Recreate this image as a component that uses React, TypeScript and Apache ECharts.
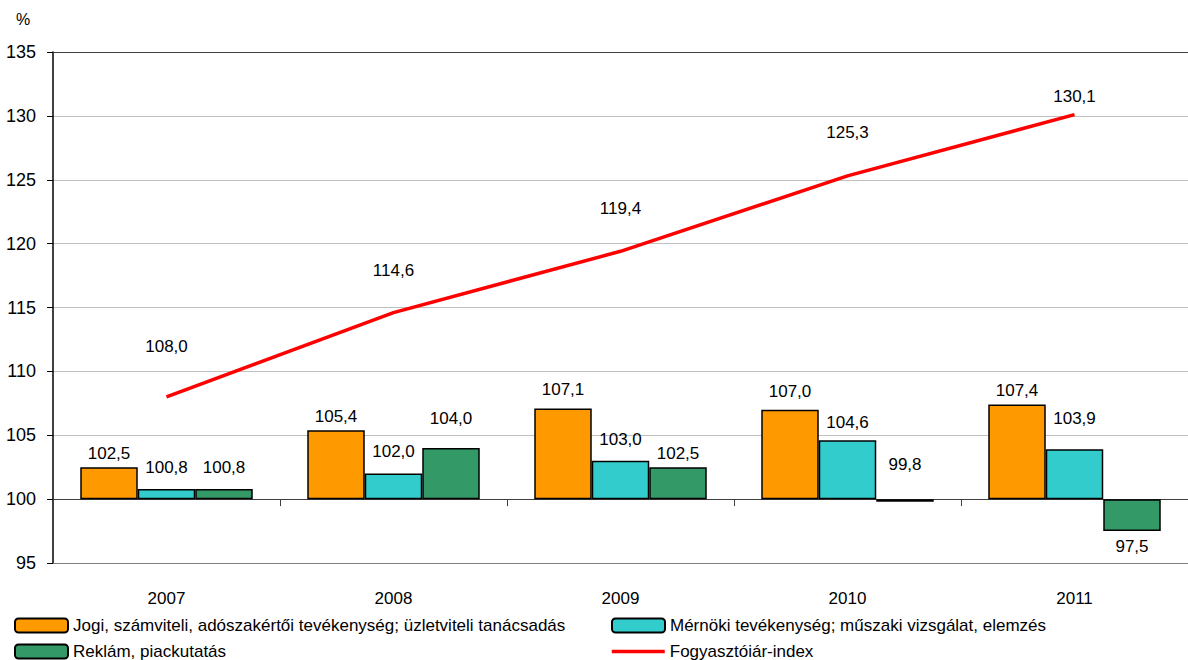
import React, { useEffect, useRef } from "react";
import * as echarts from "echarts";

const categories = ["2007", "2008", "2009", "2010", "2011"];
const jogi = [102.5, 105.4, 107.1, 107.0, 107.4];
const mernoki = [100.8, 102.0, 103.0, 104.6, 103.9];
const reklam = [100.8, 104.0, 102.5, 99.8, 97.5];
const fogyasztoi = [108.0, 114.6, 119.4, 125.3, 130.1];
const BASE = 100;

const names = [
  "Jogi, számviteli, adószakértői tevékenység; üzletviteli tanácsadás",
  "Mérnöki tevékenység; műszaki vizsgálat, elemzés",
  "Reklám, piackutatás",
  "Fogyasztóiár-index",
];

// label offsets (style only)
const distJogi = [5.5, 5.5, 10, 10, 6];
const distMernoki = [13, 13.5, 12.5, 9.5, 22];
const distReklam = [13, 21.5, 5, 26.5, 7];
const distLine = [41, 33, 34, 34, 9];

const FONT = "'Liberation Sans', Arial, sans-serif";
const fmt = (v: number) => v.toFixed(1).replace(".", ",");
const rel = (v: number) => +(v - BASE).toFixed(2);

export default function App() {
  const ref = useRef<HTMLDivElement>(null);
  useEffect(() => {
    if (!ref.current) return;
    const chart = echarts.init(ref.current, null, { renderer: "svg" });
    const labelBase = { show: true, fontSize: 17, color: "#000", fontFamily: FONT };
    const barItem = (color: string) => ({ color, borderColor: "#000", borderWidth: 1.5 });
    const mkBar = (name: string, vals: number[], dists: number[], color: string) => ({
      name,
      type: "bar",
      barWidth: 57.5,
      barGap: "0%",
      itemStyle: barItem(color),
      label: { ...labelBase, position: "top", formatter: (p: any) => fmt(vals[p.dataIndex]) },
      data: vals.map((v, i) => ({
        value: rel(v),
        label: { position: v < 99 ? "bottom" : "top", distance: dists[i] },
      })),
    });
    const option: any = {
      animation: false,
      textStyle: { fontFamily: FONT },
      grid: { left: 53, top: 52, width: 1138, height: 511, containLabel: false },
      xAxis: [
        {
          type: "category",
          data: categories,
          position: "bottom",
          axisLine: { onZero: false, lineStyle: { color: "#808080", width: 1 } },
          axisTick: { show: false },
          axisLabel: { margin: 27, fontSize: 17, color: "#000", fontFamily: FONT },
        },
        {
          type: "category",
          data: categories,
          position: "top",
          axisLine: { onZero: false, lineStyle: { color: "#404040", width: 1 } },
          axisTick: { show: false },
          axisLabel: { show: false },
        },
        {
          type: "category",
          data: categories,
          position: "bottom",
          axisLine: { onZero: true, lineStyle: { color: "#404040", width: 1 } },
          axisTick: { show: true, length: 7, lineStyle: { color: "#404040" } },
          axisLabel: { show: false },
        },
      ],
      yAxis: {
        type: "value",
        min: -5,
        max: 35,
        interval: 5,
        axisLine: { show: true, lineStyle: { color: "#000", width: 1.5 } },
        axisTick: { show: true, length: 6, lineStyle: { color: "#000" } },
        axisLabel: {
          margin: 17,
          fontSize: 18,
          color: "#000",
          fontFamily: FONT,
          formatter: (v: number) => String(v + BASE),
        },
        splitLine: { lineStyle: { color: "#C0C0C0", width: 1 } },
      },
      legend: [
        { data: [names[0]], left: 14, top: 617 },
        { data: [names[1]], left: 611, top: 617 },
        { data: [names[2]], left: 14, top: 643 },
        { data: [names[3]], left: 610, top: 643, lineStyle: { width: 3.5 } },
      ].map((l) => ({
        ...l,
        padding: 0,
        itemWidth: 53,
        itemHeight: 14,
        textStyle: { fontSize: 17, color: "#000", fontFamily: FONT },
      })),
      graphic: [
        { type: "text", left: 16, top: 11, style: { text: "%", fontSize: 16, fill: "#000", fontFamily: FONT } },
      ],
      series: [
        mkBar(names[0], jogi, distJogi, "#FF9900"),
        mkBar(names[1], mernoki, distMernoki, "#33CCCC"),
        mkBar(names[2], reklam, distReklam, "#339966"),
        {
          name: names[3],
          type: "line",
          symbol: "circle",
          symbolSize: 1,
          showSymbol: true,
          lineStyle: { color: "#FF0000", width: 3.5 },
          itemStyle: { color: "transparent" },
          label: { ...labelBase, position: "top", formatter: (p: any) => fmt(fogyasztoi[p.dataIndex]) },
          data: fogyasztoi.map((v, i) => ({ value: rel(v), label: { distance: distLine[i] } })),
        },
      ],
    };
    chart.setOption(option);
    return () => chart.dispose();
  }, []);
  return (
    <div
      ref={ref}
      style={{ position: "fixed", left: 0, top: 0, width: 1188, height: 660, background: "#fff" }}
    />
  );
}
